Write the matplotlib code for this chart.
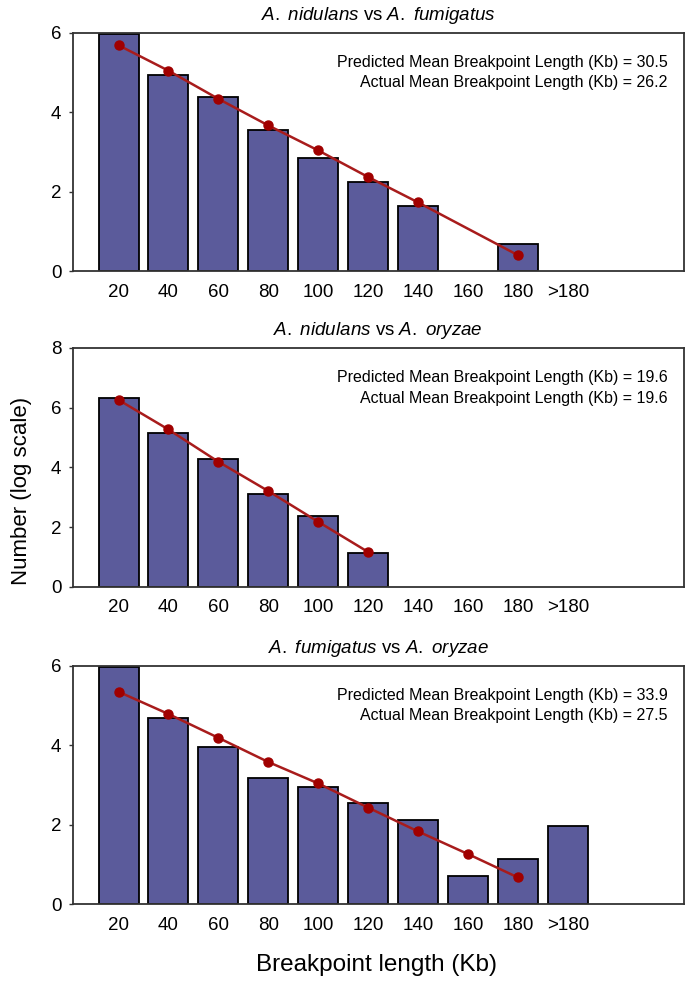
import numpy as np
import matplotlib
matplotlib.use('Agg')
import matplotlib.pyplot as plt

plt.rcParams['font.family'] = ['Liberation Sans', 'DejaVu Sans']
plt.rcParams['mathtext.fontset'] = 'custom'
plt.rcParams['mathtext.rm'] = 'Liberation Sans'
plt.rcParams['mathtext.it'] = 'Liberation Sans:italic'

labels = ['20', '40', '60', '80', '100', '120', '140', '160', '180', '>180']

# panel 1: A. nidulans vs A. fumigatus
bars1 = [5.98, 4.95, 4.39, 3.55, 2.84, 2.24, 1.64, 0, 0.69, 0]
line1_idx = [0, 1, 2, 3, 4, 5, 6, 8]
line1 = [5.69, 5.05, 4.34, 3.67, 3.04, 2.37, 1.73, 0.40]

# panel 2: A. nidulans vs A. oryzae
bars2 = [6.32, 5.15, 4.27, 3.10, 2.37, 1.12, 0, 0, 0, 0]
line2_idx = [0, 1, 2, 3, 4, 5]
line2 = [6.26, 5.27, 4.19, 3.21, 2.18, 1.17]

# panel 3: A. fumigatus vs A. oryzae
bars3 = [5.98, 4.68, 3.97, 3.18, 2.96, 2.54, 2.12, 0.71, 1.13, 1.97]
line3_idx = [0, 1, 2, 3, 4, 5, 6, 7, 8]
line3 = [5.35, 4.79, 4.19, 3.58, 3.04, 2.43, 1.83, 1.26, 0.67]

titles = [r'$\it{A.}$ $\it{nidulans}$ vs $\it{A.}$ $\it{fumigatus}$',
          r'$\it{A.}$ $\it{nidulans}$ vs $\it{A.}$ $\it{oryzae}$',
          r'$\it{A.}$ $\it{fumigatus}$ vs $\it{A.}$ $\it{oryzae}$']
predicted = ['30.5', '19.6', '33.9']
actual = ['26.2', '19.6', '27.5']
ymax = [6, 8, 6]

bar_color = '#5b5b9b'
line_color = '#a81c1c'
dot_color = '#a00000'

fig = plt.figure(figsize=(6.85, 9.82), dpi=100)
positions = [[0.106, 0.724, 0.892, 0.2424],
             [0.106, 0.4023, 0.892, 0.2434],
             [0.106, 0.0794, 0.892, 0.2424]]

data = [(bars1, line1_idx, line1), (bars2, line2_idx, line2), (bars3, line3_idx, line3)]
x = np.arange(len(labels))

for k, (bars, idx, vals) in enumerate(data):
    ax = fig.add_axes(positions[k])
    heights = np.array(bars)
    mask = heights > 0
    ax.bar(x[mask], heights[mask], width=0.8, color=bar_color, edgecolor='black',
           linewidth=1.3, zorder=2)
    ax.plot(idx, vals, color=line_color, linewidth=1.8, marker='o', markersize=6.5,
            markerfacecolor=dot_color, markeredgecolor=dot_color, zorder=3)
    ax.set_xlim(-0.92, 11.32)
    ax.set_ylim(0, ymax[k])
    ax.set_yticks(np.arange(0, ymax[k] + 1, 2))
    ax.set_xticks(x)
    ax.set_xticklabels(labels)
    ax.tick_params(axis='both', labelsize=13.5)
    ax.tick_params(axis='x', length=0, pad=9)
    ax.tick_params(axis='y', direction='out', length=3, width=1, color='#333333', pad=5)
    for side in ['left', 'bottom', 'top', 'right']:
        ax.spines[side].set_linewidth(1.3)
        ax.spines[side].set_color('#333333')
    ax.set_title(titles[k], fontsize=13.5, pad=9)
    ax.text(0.974, 0.878, 'Predicted Mean Breakpoint Length (Kb) = ' + predicted[k],
            transform=ax.transAxes, ha='right', va='center', fontsize=11.5)
    ax.text(0.974, 0.79, 'Actual Mean Breakpoint Length (Kb) = ' + actual[k],
            transform=ax.transAxes, ha='right', va='center', fontsize=11.5)

fig.text(0.032, 0.5, 'Number (log scale)', rotation=90, ha='center', va='center', fontsize=16)
fig.text(0.55, 0.017, 'Breakpoint length (Kb)', ha='center', va='center', fontsize=17.5)

fig.savefig('out.png', dpi=100)
